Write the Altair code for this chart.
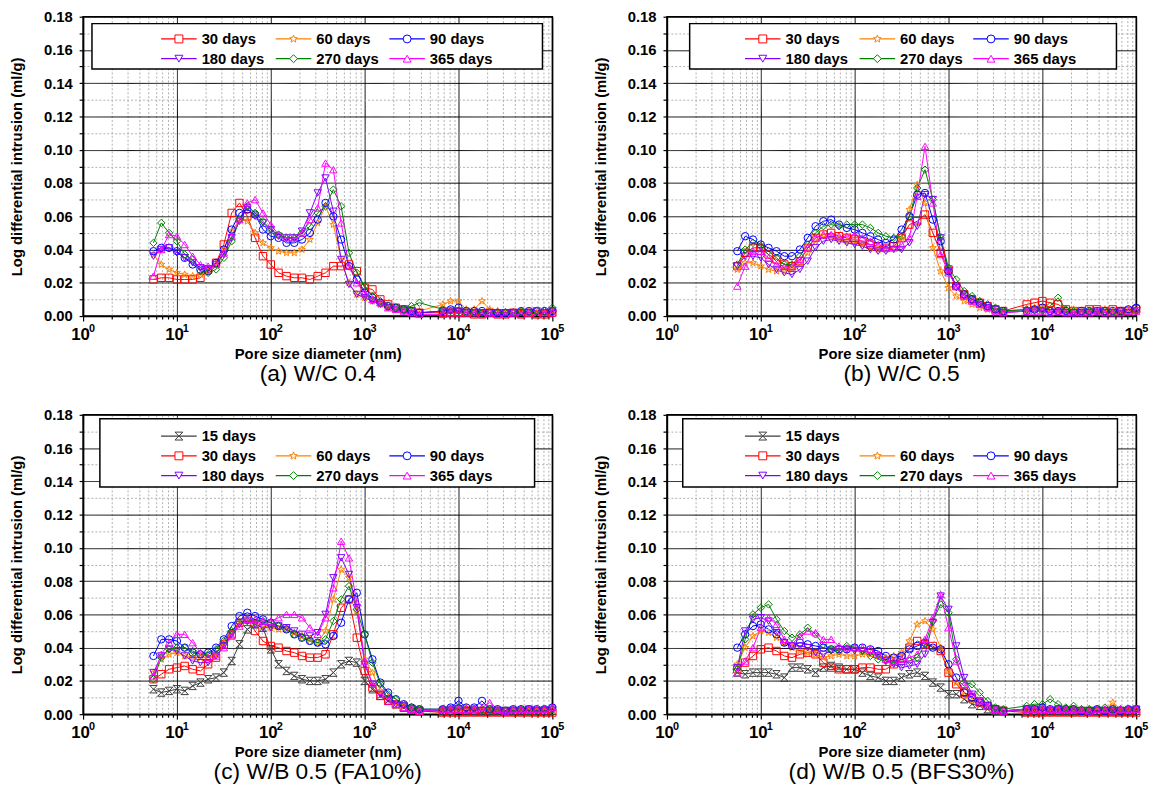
import math
import altair as alt
import pandas as pd

# ---------------- data ----------------
DIAM = [5.62, 6.81, 8.25, 10, 12.1, 14.7, 17.8, 21.5, 26.1, 31.6, 38.3, 46.4, 56.2, 68.1, 82.5, 100,
        121, 147, 178, 215, 261, 316, 383, 464, 562, 681, 825, 1000,
        1210, 1470, 1780, 2150, 2610, 3160, 3830,
        6810, 8250, 10000, 12100, 14700, 17800, 21500, 26100, 31600, 38300, 46400, 56200, 68100, 82500, 100000]

A_30 = [0.022, 0.023, 0.023, 0.022, 0.022, 0.022, 0.023, 0.028, 0.032, 0.043, 0.062, 0.068, 0.060, 0.047, 0.036, 0.031,
        0.026, 0.024, 0.023, 0.023, 0.022, 0.024, 0.026, 0.030, 0.030, 0.031, 0.027, 0.017, 0.016, 0.010, 0.007, 0.005,
        0.004, 0.003, 0.002, 0.002, 0.002, 0.002, 0.002, 0.001, 0.001, 0.002, 0.001, 0.001, 0.002, 0.001, 0.002, 0.001,
        0.001, 0.002]
A_60 = [0.037, 0.031, 0.028, 0.026, 0.025, 0.024, 0.025, 0.027, 0.032, 0.040, 0.051, 0.058, 0.057, 0.050, 0.044, 0.041,
        0.039, 0.038, 0.038, 0.040, 0.046, 0.056, 0.066, 0.055, 0.034, 0.020, 0.013, 0.011, 0.009, 0.007, 0.005, 0.004,
        0.004, 0.003, 0.003, 0.007, 0.009, 0.009, 0.004, 0.004, 0.009, 0.004, 0.003, 0.002, 0.002, 0.003, 0.002, 0.002,
        0.002, 0.003]
A_90 = [0.039, 0.041, 0.041, 0.039, 0.035, 0.031, 0.028, 0.027, 0.032, 0.040, 0.052, 0.062, 0.064, 0.061, 0.052, 0.048,
        0.047, 0.044, 0.044, 0.046, 0.050, 0.058, 0.068, 0.060, 0.046, 0.030, 0.022, 0.014, 0.011, 0.008, 0.006, 0.005,
        0.004, 0.003, 0.002, 0.003, 0.004, 0.005, 0.003, 0.003, 0.003, 0.002, 0.002, 0.002, 0.002, 0.003, 0.003, 0.003,
        0.003, 0.003]
A_180 = [0.036, 0.040, 0.041, 0.038, 0.035, 0.032, 0.029, 0.028, 0.031, 0.037, 0.047, 0.057, 0.065, 0.060, 0.056, 0.052,
         0.048, 0.047, 0.047, 0.051, 0.062, 0.074, 0.083, 0.063, 0.034, 0.019, 0.013, 0.011, 0.009, 0.007, 0.005, 0.004,
         0.003, 0.003, 0.002, 0.003, 0.003, 0.003, 0.002, 0.002, 0.002, 0.002, 0.002, 0.002, 0.002, 0.002, 0.002, 0.003,
         0.002, 0.003]
A_270 = [0.044, 0.056, 0.050, 0.045, 0.037, 0.034, 0.027, 0.026, 0.028, 0.035, 0.045, 0.058, 0.066, 0.062, 0.057, 0.052,
         0.049, 0.047, 0.047, 0.050, 0.054, 0.062, 0.066, 0.076, 0.066, 0.038, 0.026, 0.018, 0.012, 0.009, 0.006, 0.005,
         0.004, 0.006, 0.008, 0.004, 0.003, 0.003, 0.002, 0.002, 0.002, 0.002, 0.002, 0.002, 0.002, 0.003, 0.002, 0.003,
         0.003, 0.005]
A_365 = [0.024, 0.040, 0.049, 0.048, 0.043, 0.036, 0.031, 0.030, 0.031, 0.038, 0.048, 0.058, 0.068, 0.070, 0.062, 0.055,
         0.049, 0.047, 0.047, 0.050, 0.058, 0.065, 0.092, 0.088, 0.056, 0.030, 0.020, 0.014, 0.010, 0.008, 0.005, 0.004,
         0.003, 0.002, 0.001, 0.001, 0.002, 0.002, 0.002, 0.002, 0.001, 0.002, 0.001, 0.001, 0.002, 0.001, 0.002, 0.001,
         0.002, 0.002]

B_30 = [0.030, 0.038, 0.041, 0.041, 0.037, 0.034, 0.031, 0.030, 0.033, 0.041, 0.047, 0.049, 0.050, 0.048, 0.047, 0.046,
        0.045, 0.043, 0.042, 0.041, 0.042, 0.047, 0.055, 0.057, 0.061, 0.050, 0.038, 0.028, 0.018, 0.013, 0.010, 0.008,
        0.006, 0.004, 0.003, 0.007, 0.008, 0.009, 0.008, 0.007, 0.004, 0.003, 0.003, 0.004, 0.004, 0.003, 0.004, 0.003,
        0.003, 0.004]
B_60 = [0.028, 0.032, 0.032, 0.030, 0.028, 0.027, 0.027, 0.028, 0.031, 0.038, 0.045, 0.048, 0.047, 0.046, 0.045, 0.045,
        0.043, 0.041, 0.040, 0.040, 0.041, 0.046, 0.064, 0.079, 0.068, 0.041, 0.027, 0.017, 0.012, 0.009, 0.007, 0.005,
        0.004, 0.003, 0.003, 0.004, 0.005, 0.005, 0.004, 0.003, 0.003, 0.004, 0.003, 0.003, 0.003, 0.004, 0.003, 0.003,
        0.004, 0.003]
B_90 = [0.039, 0.048, 0.046, 0.043, 0.041, 0.039, 0.036, 0.036, 0.040, 0.047, 0.054, 0.057, 0.058, 0.055, 0.053, 0.052,
        0.050, 0.048, 0.046, 0.044, 0.046, 0.052, 0.060, 0.073, 0.074, 0.058, 0.045, 0.027, 0.018, 0.013, 0.010, 0.008,
        0.006, 0.004, 0.003, 0.003, 0.004, 0.005, 0.003, 0.003, 0.003, 0.002, 0.003, 0.003, 0.003, 0.003, 0.003, 0.003,
        0.004, 0.005]
B_180 = [0.030, 0.036, 0.036, 0.035, 0.031, 0.028, 0.026, 0.025, 0.028, 0.033, 0.041, 0.045, 0.046, 0.045, 0.044, 0.043,
         0.042, 0.040, 0.039, 0.039, 0.040, 0.040, 0.044, 0.054, 0.073, 0.070, 0.047, 0.027, 0.017, 0.012, 0.009, 0.007,
         0.005, 0.004, 0.002, 0.003, 0.003, 0.003, 0.002, 0.002, 0.002, 0.002, 0.002, 0.002, 0.003, 0.002, 0.002, 0.003,
         0.002, 0.003]
B_270 = [0.031, 0.040, 0.044, 0.042, 0.039, 0.035, 0.031, 0.031, 0.036, 0.043, 0.050, 0.054, 0.055, 0.054, 0.055, 0.055,
         0.055, 0.053, 0.050, 0.048, 0.047, 0.048, 0.060, 0.077, 0.088, 0.070, 0.047, 0.029, 0.022, 0.015, 0.012, 0.009,
         0.007, 0.005, 0.003, 0.004, 0.004, 0.003, 0.006, 0.011, 0.004, 0.003, 0.002, 0.003, 0.002, 0.003, 0.002, 0.003,
         0.002, 0.003]
B_365 = [0.018, 0.030, 0.039, 0.039, 0.035, 0.031, 0.030, 0.030, 0.034, 0.041, 0.047, 0.049, 0.049, 0.048, 0.048, 0.049,
         0.047, 0.045, 0.043, 0.041, 0.041, 0.043, 0.047, 0.072, 0.102, 0.068, 0.037, 0.026, 0.018, 0.012, 0.009, 0.007,
         0.005, 0.003, 0.002, 0.003, 0.003, 0.003, 0.002, 0.003, 0.002, 0.002, 0.002, 0.002, 0.003, 0.002, 0.002, 0.002,
         0.003, 0.003]

C_15 = [0.015, 0.013, 0.014, 0.015, 0.014, 0.017, 0.019, 0.021, 0.022, 0.025, 0.032, 0.042, 0.051, 0.054, 0.052, 0.039,
        0.030, 0.026, 0.023, 0.021, 0.020, 0.020, 0.021, 0.025, 0.030, 0.032, 0.031, 0.020, 0.015, 0.011, 0.008, 0.006,
        0.004, 0.003, 0.002, 0.002, 0.002, 0.003, 0.002, 0.002, 0.002, 0.002, 0.002, 0.002, 0.002, 0.002, 0.002, 0.002,
        0.002, 0.002]
C_30 = [0.021, 0.024, 0.027, 0.028, 0.029, 0.027, 0.026, 0.030, 0.034, 0.042, 0.048, 0.055, 0.057, 0.050, 0.044, 0.041,
        0.040, 0.038, 0.037, 0.035, 0.034, 0.034, 0.036, 0.048, 0.064, 0.069, 0.046, 0.026, 0.016, 0.011, 0.008, 0.006,
        0.004, 0.003, 0.002, 0.001, 0.001, 0.001, 0.001, 0.001, 0.001, 0.001, 0.001, 0.001, 0.001, 0.001, 0.001, 0.001,
        0.001, 0.001]
C_60 = [0.025, 0.033, 0.036, 0.037, 0.035, 0.034, 0.034, 0.034, 0.036, 0.043, 0.049, 0.054, 0.056, 0.055, 0.053, 0.052,
        0.051, 0.051, 0.049, 0.047, 0.045, 0.043, 0.050, 0.069, 0.087, 0.082, 0.062, 0.033, 0.025, 0.014, 0.010, 0.007,
        0.005, 0.004, 0.002, 0.003, 0.003, 0.003, 0.004, 0.003, 0.003, 0.003, 0.003, 0.002, 0.002, 0.003, 0.002, 0.002,
        0.002, 0.003]
C_90 = [0.035, 0.045, 0.045, 0.044, 0.040, 0.037, 0.036, 0.037, 0.040, 0.045, 0.053, 0.059, 0.061, 0.059, 0.057, 0.055,
        0.053, 0.051, 0.048, 0.046, 0.044, 0.043, 0.042, 0.047, 0.055, 0.069, 0.073, 0.048, 0.033, 0.019, 0.013, 0.009,
        0.006, 0.004, 0.003, 0.003, 0.004, 0.008, 0.004, 0.004, 0.008, 0.003, 0.003, 0.002, 0.003, 0.003, 0.003, 0.003,
        0.003, 0.004]
C_180 = [0.025, 0.035, 0.039, 0.038, 0.035, 0.032, 0.031, 0.031, 0.035, 0.041, 0.048, 0.054, 0.056, 0.054, 0.052, 0.052,
         0.053, 0.052, 0.050, 0.048, 0.047, 0.049, 0.060, 0.082, 0.094, 0.084, 0.064, 0.030, 0.018, 0.012, 0.009, 0.006,
         0.005, 0.003, 0.002, 0.002, 0.003, 0.003, 0.002, 0.003, 0.002, 0.002, 0.002, 0.002, 0.002, 0.002, 0.003, 0.002,
         0.002, 0.003]
C_270 = [0.021, 0.034, 0.039, 0.040, 0.040, 0.038, 0.036, 0.036, 0.039, 0.044, 0.050, 0.055, 0.056, 0.056, 0.056, 0.055,
         0.053, 0.051, 0.048, 0.046, 0.044, 0.043, 0.045, 0.056, 0.069, 0.077, 0.063, 0.048, 0.031, 0.018, 0.012, 0.009,
         0.006, 0.004, 0.003, 0.003, 0.003, 0.004, 0.003, 0.003, 0.003, 0.003, 0.002, 0.002, 0.002, 0.003, 0.002, 0.002,
         0.003, 0.003]
C_365 = [0.023, 0.036, 0.043, 0.048, 0.048, 0.043, 0.037, 0.034, 0.035, 0.040, 0.047, 0.053, 0.057, 0.057, 0.056, 0.056,
         0.058, 0.060, 0.060, 0.058, 0.052, 0.048, 0.058, 0.076, 0.104, 0.094, 0.067, 0.032, 0.018, 0.012, 0.008, 0.006,
         0.004, 0.003, 0.002, 0.003, 0.003, 0.003, 0.003, 0.003, 0.004, 0.007, 0.003, 0.002, 0.003, 0.003, 0.003, 0.003,
         0.003, 0.004]

D_15 = [0.025, 0.024, 0.025, 0.025, 0.025, 0.024, 0.022, 0.028, 0.028, 0.027, 0.025, 0.028, 0.029, 0.028, 0.027, 0.027,
        0.025, 0.023, 0.022, 0.020, 0.020, 0.022, 0.024, 0.025, 0.023, 0.019, 0.016, 0.012, 0.012, 0.009, 0.006, 0.005,
        0.003, 0.002, 0.002, 0.002, 0.002, 0.002, 0.002, 0.002, 0.002, 0.002, 0.002, 0.002, 0.002, 0.002, 0.002, 0.002,
        0.002, 0.002]
D_30 = [0.027, 0.031, 0.035, 0.039, 0.040, 0.038, 0.035, 0.034, 0.036, 0.037, 0.036, 0.031, 0.028, 0.027, 0.027, 0.027,
        0.028, 0.028, 0.027, 0.027, 0.030, 0.034, 0.040, 0.044, 0.042, 0.041, 0.038, 0.025, 0.018, 0.013, 0.010, 0.007,
        0.005, 0.003, 0.002, 0.001, 0.001, 0.001, 0.001, 0.001, 0.001, 0.001, 0.001, 0.001, 0.001, 0.001, 0.001, 0.001,
        0.001, 0.001]
D_60 = [0.030, 0.040, 0.047, 0.050, 0.049, 0.046, 0.043, 0.040, 0.038, 0.037, 0.036, 0.034, 0.035, 0.036, 0.035, 0.035,
        0.036, 0.036, 0.035, 0.034, 0.035, 0.037, 0.044, 0.054, 0.056, 0.051, 0.040, 0.026, 0.019, 0.011, 0.008, 0.006,
        0.004, 0.003, 0.002, 0.003, 0.003, 0.003, 0.003, 0.003, 0.003, 0.003, 0.003, 0.003, 0.002, 0.003, 0.007, 0.003,
        0.003, 0.003]
D_90 = [0.040, 0.048, 0.053, 0.054, 0.051, 0.048, 0.043, 0.041, 0.043, 0.042, 0.041, 0.040, 0.039, 0.039, 0.039, 0.040,
        0.040, 0.039, 0.038, 0.035, 0.034, 0.035, 0.039, 0.041, 0.043, 0.040, 0.039, 0.030, 0.022, 0.013, 0.010, 0.007,
        0.005, 0.003, 0.002, 0.003, 0.003, 0.004, 0.003, 0.003, 0.003, 0.003, 0.002, 0.002, 0.003, 0.002, 0.003, 0.002,
        0.003, 0.003]
D_180 = [0.028, 0.050, 0.057, 0.058, 0.056, 0.049, 0.043, 0.041, 0.041, 0.040, 0.037, 0.036, 0.038, 0.039, 0.039, 0.038,
         0.038, 0.037, 0.035, 0.032, 0.030, 0.028, 0.029, 0.030, 0.036, 0.055, 0.071, 0.063, 0.041, 0.022, 0.012, 0.008,
         0.005, 0.003, 0.002, 0.003, 0.003, 0.003, 0.002, 0.003, 0.002, 0.002, 0.002, 0.002, 0.002, 0.002, 0.002, 0.002,
         0.002, 0.003]
D_270 = [0.027, 0.045, 0.060, 0.064, 0.066, 0.057, 0.050, 0.046, 0.048, 0.052, 0.048, 0.042, 0.039, 0.038, 0.041, 0.040,
         0.038, 0.035, 0.033, 0.032, 0.031, 0.031, 0.032, 0.034, 0.042, 0.056, 0.066, 0.061, 0.033, 0.019, 0.018, 0.013,
         0.008, 0.004, 0.003, 0.005, 0.006, 0.006, 0.009, 0.006, 0.004, 0.005, 0.003, 0.003, 0.003, 0.004, 0.003, 0.003,
         0.003, 0.003]
D_365 = [0.025, 0.032, 0.040, 0.052, 0.058, 0.054, 0.045, 0.042, 0.047, 0.050, 0.049, 0.045, 0.045, 0.041, 0.040, 0.040,
         0.040, 0.039, 0.036, 0.033, 0.032, 0.033, 0.034, 0.036, 0.045, 0.058, 0.072, 0.052, 0.032, 0.018, 0.012, 0.008,
         0.005, 0.003, 0.002, 0.003, 0.003, 0.003, 0.003, 0.003, 0.003, 0.003, 0.003, 0.002, 0.003, 0.003, 0.002, 0.003,
         0.003, 0.003]

SERIES = ["15 days", "30 days", "60 days", "90 days", "180 days", "270 days", "365 days"]
COLORS = ["#3c3c3c", "#ff0000", "#ff8000", "#0000ff", "#8000ff", "#008000", "#ff00ff"]

X_MAJOR = [1, 10, 100, 1000, 10000, 100000]
X_BASE = ["10", "10", "10", "10", "10", "10"]
X_EXP = ["0", "1", "2", "3", "4", "5"]
Y_MAJOR = [0.00, 0.02, 0.04, 0.06, 0.08, 0.10, 0.12, 0.14, 0.16, 0.18]
Y_LABELS = ["0.00", "0.02", "0.04", "0.06", "0.08", "0.10", "0.12", "0.14", "0.16", "0.18"]

PANEL_TITLES = ["(a) W/C 0.4", "(b) W/C 0.5", "(c) W/B 0.5 (FA10%)", "(d) W/B 0.5 (BFS30%)"]
PANEL_SERIES = [
    [("30 days", A_30), ("60 days", A_60), ("90 days", A_90), ("180 days", A_180), ("270 days", A_270), ("365 days", A_365)],
    [("30 days", B_30), ("60 days", B_60), ("90 days", B_90), ("180 days", B_180), ("270 days", B_270), ("365 days", B_365)],
    [("15 days", C_15), ("30 days", C_30), ("60 days", C_60), ("90 days", C_90), ("180 days", C_180), ("270 days", C_270), ("365 days", C_365)],
    [("15 days", D_15), ("30 days", D_30), ("60 days", D_60), ("90 days", D_90), ("180 days", D_180), ("270 days", D_270), ("365 days", D_365)],
]

# ---------------- styling ----------------
FONT = "Liberation Sans"
W, H = 475, 303


def star_path():
    pts = []
    for k in range(10):
        r = 1.0 if k % 2 == 0 else 0.42
        a = math.radians(-90 + 36 * k)
        pts.append((r * math.cos(a), r * math.sin(a)))
    return "M" + "L".join(f"{x:.3f},{y:.3f}" for x, y in pts) + "Z"


HOURGLASS = "M-1,-1L1,-1L-1,1L1,1Z"
SHAPES = [HOURGLASS, "square", star_path(), "circle", "triangle-down", "diamond", "triangle-up"]
SHAPE_OF = dict(zip(SERIES, SHAPES))
COLOR_OF = dict(zip(SERIES, COLORS))

x_values = sorted(X_MAJOR + [m * p for p in X_MAJOR[:-1] for m in range(2, 10)])
y_values = sorted(Y_MAJOR + [round(v + 0.01, 3) for v in Y_MAJOR[:-1]])

x_major_test = " || ".join(f"abs(datum.value / {v} - 1) < 0.001" for v in X_MAJOR)
x_label_expr = "".join(f"abs(datum.value / {v} - 1) < 0.001 ? '{lab}' : " for v, lab in zip(X_MAJOR, X_BASE)) + "''"
y_major_test = " || ".join(f"abs(datum.value - {v}) < 0.0001" for v in Y_MAJOR)
y_label_expr = "".join(f"abs(datum.value - {v}) < 0.0001 ? '{lab}' : " for v, lab in zip(Y_MAJOR, Y_LABELS)) + "''"


def grid_props(test):
    return dict(
        grid=True,
        gridColor={"condition": {"test": test, "value": "#000000"}, "value": "#b0b0b0"},
        gridDash={"condition": {"test": test, "value": [1, 0]}, "value": [2, 2]},
        gridWidth={"condition": {"test": test, "value": 1}, "value": 1},
    )


x_axis = alt.Axis(
    values=x_values, labelExpr=x_label_expr, title="Pore size diameter (nm)",
    tickSize={"condition": {"test": x_major_test, "value": 5}, "value": 3},
    tickColor="black", tickWidth=1.2, domainColor="black", domainWidth=1.5,
    labelFont=FONT, labelFontSize=17, labelFontWeight="bold", labelColor="black",
    labelOverlap=False, labelFlush=False, labelPadding=6, labelOffset=-3,
    titleFont=FONT, titleFontSize=15, titleFontWeight="bold", titleColor="black", titlePadding=4,
    **grid_props(x_major_test),
)
y_axis = alt.Axis(
    values=y_values, labelExpr=y_label_expr, title="Log differential intrusion (ml/g)",
    tickSize=4,
    tickColor="black", tickWidth=1.2, domainColor="black", domainWidth=1.5,
    labelFont=FONT, labelFontSize=15, labelFontWeight="bold", labelColor="black",
    labelOverlap=False, labelPadding=7,
    titleFont=FONT, titleFontSize=15, titleFontWeight="bold", titleColor="black", titlePadding=19,
    **grid_props(y_major_test),
)

LEG_MARK_X = [97, 213, 328]
LEG_TEXT_DX = 23
LEG_HALF = 18
LEG_BOXES = [(9, 7, 465, 53), (23, 7, 455, 53), (17, 4, 457, 73), (16, 4, 456, 73)]
LEG_ROWS_6 = [22.5, 42.5]
LEG_ROWS_7 = [21.5, 41.5, 61.5]


def legend_layout(names):
    out = []
    if len(names) == 7:
        out.append((names[0], LEG_MARK_X[0], LEG_ROWS_7[0]))
        rest, rows = names[1:], LEG_ROWS_7[1:]
    else:
        rest, rows = names, LEG_ROWS_6
    for i, n in enumerate(rest):
        out.append((n, LEG_MARK_X[i % 3], rows[i // 3]))
    return out


color_enc = alt.Color("series:N", scale=alt.Scale(domain=SERIES, range=COLORS), legend=None)
shape_enc = alt.Shape("series:N", scale=alt.Scale(domain=SERIES, range=SHAPES), legend=None)
exp_df = pd.DataFrame({"d": X_MAJOR, "exp": X_EXP})


def build_panel(idx):
    pairs = PANEL_SERIES[idx]
    names = [n for n, _ in pairs]
    rows = []
    for n, vals in pairs:
        for d, v in zip(DIAM, vals):
            rows.append({"series": n, "d": d, "v": v})
    df = pd.DataFrame(rows)

    x = alt.X("d:Q", scale=alt.Scale(type="log", domain=[1, 100000], nice=False), axis=x_axis)
    y = alt.Y("v:Q", scale=alt.Scale(domain=[0, 0.18], nice=False, zero=False), axis=y_axis)

    lines = alt.Chart(df).mark_line(strokeWidth=1).encode(x=x, y=y, color=color_enc, detail="series:N", order="d:Q")
    pts = alt.Chart(df).mark_point(size=56, filled=False, strokeWidth=1, opacity=1).encode(
        x=x, y=y, color=color_enc, shape=shape_enc)

    # superscript exponents of the decade labels
    sup = alt.Chart(exp_df).mark_text(align="left", baseline="middle", dx=6, font=FONT, fontSize=11,
                                      fontWeight="bold", color="black").encode(
        x=x, y=alt.value(H + 13), text="exp:N")

    bx1, by1, bx2, by2 = LEG_BOXES[idx]
    box_df = pd.DataFrame([{"x": bx1, "x2": bx2, "y": by1, "y2": by2}])
    rect = alt.Chart(box_df).mark_rect(fill="white", stroke="black", strokeWidth=1.5).encode(
        x=alt.X("x:Q", scale=None, axis=None), x2="x2:Q",
        y=alt.Y("y:Q", scale=None, axis=None), y2="y2:Q")

    leg = pd.DataFrame([
        {"series": n, "lx": mx, "ly": my, "x1": mx - LEG_HALF, "x2": mx + LEG_HALF, "tx": mx + LEG_TEXT_DX,
         "col": COLOR_OF[n], "shp": SHAPE_OF[n]}
        for n, mx, my in legend_layout(names)
    ])
    lrules = alt.Chart(leg).mark_rule(strokeWidth=1.2).encode(
        x=alt.X("x1:Q", scale=None, axis=None), x2="x2:Q",
        y=alt.Y("ly:Q", scale=None, axis=None), color=alt.Color("col:N", scale=None))
    lpts = alt.Chart(leg).mark_point(size=64, filled=True, fill="white", strokeWidth=1, opacity=1).encode(
        x=alt.X("lx:Q", scale=None, axis=None), y=alt.Y("ly:Q", scale=None, axis=None),
        stroke=alt.Stroke("col:N", scale=None), shape=alt.Shape("shp:N", scale=None))
    ltext = alt.Chart(leg).mark_text(align="left", baseline="middle", font=FONT, fontSize=15,
                                     fontWeight="bold", color="black").encode(
        x=alt.X("tx:Q", scale=None, axis=None), y=alt.Y("ly:Q", scale=None, axis=None), text="series:N")

    return alt.layer(lines, pts, sup, rect, lrules, lpts, ltext).properties(
        width=W, height=H,
        title=alt.TitleParams(PANEL_TITLES[idx], orient="bottom", anchor="middle", frame="group",
                              font=FONT, fontSize=23, fontWeight="normal", color="black", offset=2),
    )


chart = alt.concat(
    build_panel(0), build_panel(1), build_panel(2), build_panel(3),
    columns=2, spacing={"row": 100, "column": 116}, bounds="flush",
).properties(
    padding={"left": 1, "top": -4, "right": 5, "bottom": 5}
).configure(font=FONT).configure_view(stroke="black", strokeWidth=1.5)

chart.save("out.html", embed_options={"renderer": "svg", "actions": False})
